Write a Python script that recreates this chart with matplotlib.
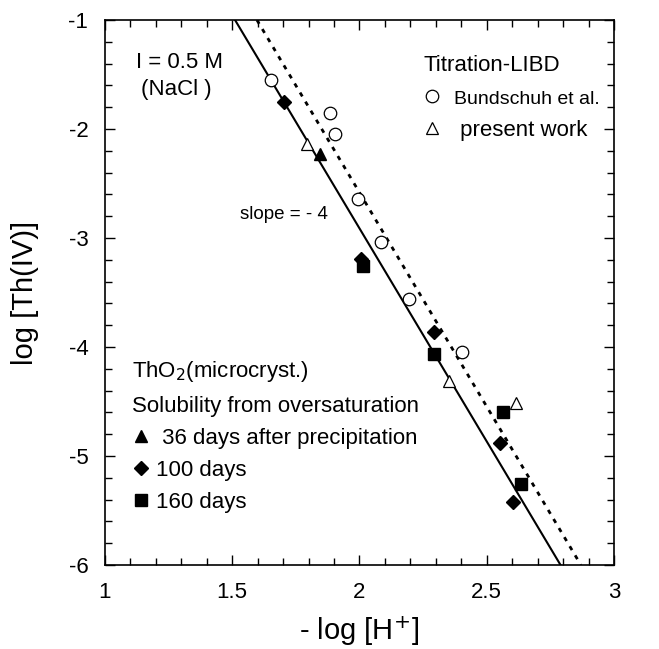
import matplotlib
matplotlib.use("Agg")
import matplotlib.pyplot as plt
from matplotlib.ticker import MultipleLocator, FormatStrFormatter

plt.rcParams['font.family'] = ['Liberation Sans', 'DejaVu Sans']
plt.rcParams['axes.unicode_minus'] = False

# Titration-LIBD, Bundschuh et al. (open circles)
bund_x = [1.652, 1.884, 1.904, 1.994, 2.084, 2.195, 2.403]
bund_y = [-1.55, -1.85, -2.05, -2.64, -3.04, -3.56, -4.05]
# Titration-LIBD, present work (open triangles)
pres_x = [1.793, 2.352, 2.615]
pres_y = [-2.14, -4.31, -4.51]
# solubility from oversaturation
d36_x = [1.845]
d36_y = [-2.23]
d100_x = [1.703, 2.006, 2.293, 2.552, 2.604]
d100_y = [-1.75, -3.19, -3.86, -4.88, -5.42]
d160_x = [2.013, 2.293, 2.565, 2.634]
d160_y = [-3.26, -4.06, -4.60, -5.26]
# slope -4 lines
fit_solid_x = [1.511, 2.79]
fit_solid_y = [-1.0, -6.0]
fit_dot_x = [1.597, 2.87]
fit_dot_y = [-1.0, -6.0]

fig = plt.figure(figsize=(6.59, 6.49), dpi=100)
ax = fig.add_axes([0.1593, 0.1294, 0.7724, 0.8398])

ax.plot(fit_solid_x, fit_solid_y, color='black', lw=1.5)
ax.plot(fit_dot_x, fit_dot_y, color='black', lw=2, linestyle=(0, (1.6, 2.2)))

h_bund, = ax.plot(bund_x, bund_y, 'o', ms=9, mfc='white', mec='black', mew=0.9, ls='none')
h_pres, = ax.plot(pres_x, pres_y, '^', ms=9, mfc='white', mec='black', mew=0.9, ls='none')
h36, = ax.plot(d36_x, d36_y, '^', ms=9, color='black', ls='none')
h100, = ax.plot(d100_x, d100_y, 'D', ms=7, color='black', ls='none')
h160, = ax.plot(d160_x, d160_y, 's', ms=8, color='black', ls='none')

ax.set_xlim(1, 3)
ax.set_ylim(-6, -1)
ax.xaxis.set_major_locator(MultipleLocator(0.5))
ax.xaxis.set_minor_locator(MultipleLocator(0.1))
ax.yaxis.set_major_locator(MultipleLocator(1))
ax.yaxis.set_minor_locator(MultipleLocator(0.2))
ax.xaxis.set_major_formatter(FormatStrFormatter('%g'))
ax.yaxis.set_major_formatter(FormatStrFormatter('%g'))
ax.tick_params(which='both', direction='in', top=True, right=True, labelsize=16, width=1)
ax.tick_params(which='major', length=7)
ax.tick_params(axis='x', which='major', pad=12)
ax.tick_params(axis='y', which='major', pad=12)
ax.tick_params(which='minor', length=5)
for s in ax.spines.values():
    s.set_linewidth(1.2)

ax.set_xlabel('- log [H$^{+}$]', fontsize=21, labelpad=8)
ax.set_ylabel('log [Th(IV)]', fontsize=21, labelpad=21)

ax.text(1.12, -1.39, 'I = 0.5 M', fontsize=16, va='center')
ax.text(1.14, -1.64, '(NaCl )', fontsize=16, va='center')
ax.text(1.53, -2.78, 'slope = - 4', fontsize=13.5, va='center')

leg1 = ax.legend([h_bund, h_pres], ['Bundschuh et al.', ' present work'],
                 title='Titration-LIBD', title_fontsize=16, fontsize=16,
                 loc='upper left', bbox_to_anchor=(0.608, 0.952), frameon=False,
                 alignment='left', handlelength=0.8, handletextpad=0.6,
                 labelspacing=0.55, borderaxespad=0)
leg1.get_texts()[0].set_fontsize(14)
ax.add_artist(leg1)
leg2 = ax.legend([h36, h100, h160], [' 36 days after precipitation', '100 days', '160 days'],
                 title='ThO$_2$(microcryst.)\nSolubility from oversaturation', title_fontsize=16,
                 fontsize=16, loc='upper left', bbox_to_anchor=(0.035, 0.395), frameon=False,
                 alignment='left', handlelength=0.8, handletextpad=0.3,
                 labelspacing=0.5, borderaxespad=0)
leg2.get_title().set_linespacing(1.75)

fig.savefig('out.png', dpi=100)
